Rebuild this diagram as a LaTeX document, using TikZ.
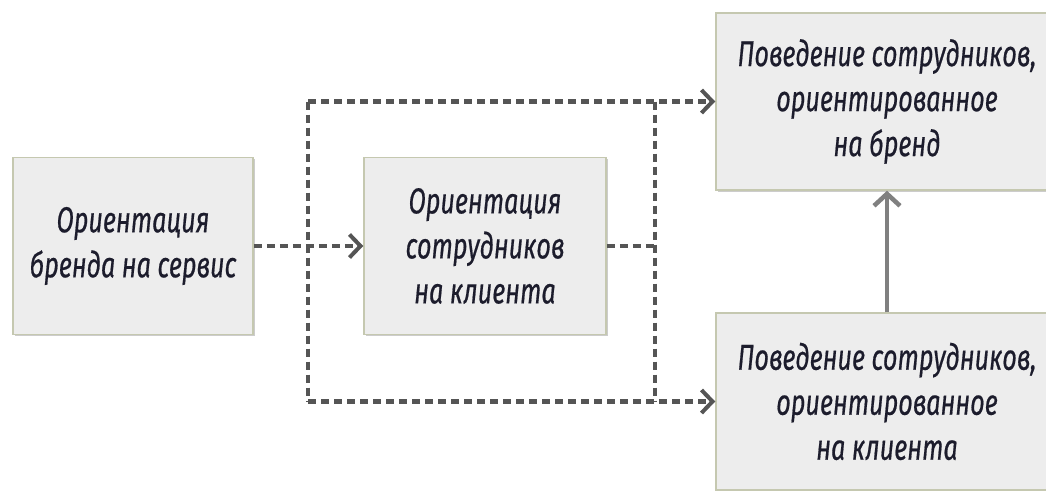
\documentclass[tikz,border=0pt]{standalone}
\usepackage{fontspec}
\setmainfont{Fira Sans}[FakeStretch=0.70, FakeBold=0.5]
\usetikzlibrary{arrows.meta,shadows}
\definecolor{boxfill}{HTML}{EDEDED}
\definecolor{boxline}{HTML}{C5C8B0}
\definecolor{linegray}{HTML}{555555}
\definecolor{arrowgray}{HTML}{808080}
\definecolor{textdark}{HTML}{1C1C2C}
\tikzset{
  box/.style={draw=boxline, line width=1.5pt, fill=boxfill, align=center,
    minimum width=240pt, minimum height=177pt, text=textdark,
    font=\fontsize{36}{45}\selectfont\itshape,
    drop shadow={shadow xshift=1.5pt, shadow yshift=-1.5pt, fill=black, opacity=0.2}},
  dashline/.style={draw=linegray, line width=4.3pt, dash pattern=on 8pt off 5pt},
  tipline/.style={-{Straight Barb[length=11pt,width=23pt,line width=4pt]}}
}
\begin{document}
\begin{tikzpicture}[x=1pt,y=-1pt]
  \useasboundingbox (0,0) rectangle (1046,490);
  \fill[white] (0,0) rectangle (1046,490);
  % boxes
  \node[box] (brand) at (133,246) {Ориентация\\бренда на сервис};
  \node[box, minimum width=242pt] (staff) at (485,246) {Ориентация\\сотрудников\\на клиента};
  \node[box, minimum width=342pt] (bhvbrand) at (887,101.5) {Поведение сотрудников,\\ориентированное\\на бренд};
  \node[box, minimum width=342pt] (bhvclient) at (887,401.5) {Поведение сотрудников,\\ориентированное\\на клиента};
  % junction points
  \coordinate (lt) at (308,101.5);
  \coordinate (lb) at (308,401.5);
  \coordinate (rt) at (655,101.5);
  \coordinate (rb) at (655,401.5);
  % dashed connectors
  \draw[dashline] (lt) -- (lb);
  \draw[dashline] (rt) -- (rb);
  \draw[dashline] (staff.east) -- (staff.east -| rt);
  \draw[dashline,tipline] (brand.east) -- (staff.west);
  \draw[dashline,tipline] (lt) -- (bhvbrand.west);
  \draw[dashline,tipline] (lb) -- (bhvclient.west);
  % solid arrow
  \draw[draw=arrowgray, line width=4.5pt, -{Straight Barb[length=12pt,width=26pt,line width=4.5pt]}] (bhvclient.north) -- (bhvbrand.south);
\end{tikzpicture}
\end{document}
